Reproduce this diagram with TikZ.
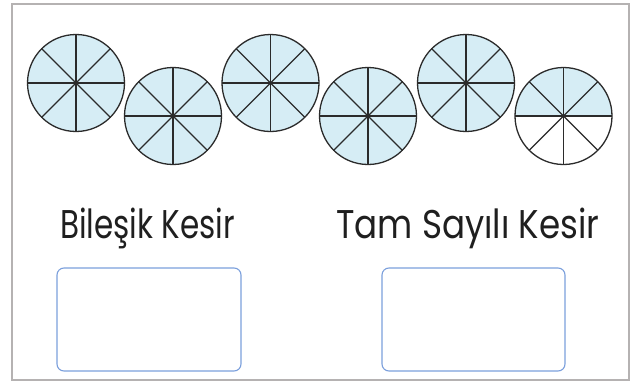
\documentclass[tikz,border=0pt]{standalone}
\usepackage{fontspec}
\usepackage{graphicx}
\usetikzlibrary{calc}
\newfontfamily\labfont{Poppins}
\definecolor{pieblue}{HTML}{D6EDF5}
\definecolor{pieline}{HTML}{2B2B2B}
\definecolor{boxblue}{HTML}{7B9FDC}
\definecolor{framegray}{HTML}{B5B2B2}
\tikzset{
  pie/.style={fill=pieblue, draw=pieline, line width=1.3pt},
  spoke/.style={draw=pieline, line width=1.3pt},
  answerbox/.style={draw=boxblue, line width=1.1pt, rounded corners=7pt},
  label/.style={anchor=base west, inner sep=0pt, text=black!88},
}
\newcommand{\eightpie}[2]{%
  \coordinate (#1) at #2;
  \path[pie] (#1) circle[radius=48.5];
  \foreach \a in {0,45,90,135} {
    \draw[spoke] ($(#1)+(\a:48.5)$) -- ($(#1)+(\a+180:48.5)$);
  }
}
\begin{document}
\begin{tikzpicture}[x=1pt,y=-1pt]
\useasboundingbox (0,0) rectangle (637,383);
\draw[framegray, line width=2.5pt] (12,4) rectangle (629,380);
\eightpie{p1}{(76,83)}
\eightpie{p2}{(173,116)}
\eightpie{p3}{(270.5,83)}
\eightpie{p4}{(368,116)}
\eightpie{p5}{(466,83)}
% last pie: only top half shaded
\coordinate (p6) at (563.5,116);
\fill[white] (p6) circle[radius=48.5];
\fill[pieblue] ($(p6)+(-48.5,0)$) arc[start angle=180, end angle=0, radius=48.5, y radius=-48.5] -- cycle;
\draw[spoke] (p6) circle[radius=48.5];
\foreach \a in {0,45,90,135} {
  \draw[spoke] ($(p6)+(\a:48.5)$) -- ($(p6)+(\a+180:48.5)$);
}
\node[label] (t1) at (60,238) {\resizebox{175pt}{30.5pt}{\labfont Bileşik Kesir}};
\node[label] (t2) at (336,238) {\resizebox{263pt}{30.5pt}{\labfont Tam Sayılı Kesir}};
\draw[answerbox] (57,268) rectangle (241,371);
\draw[answerbox] (382,268) rectangle (565,371);
\end{tikzpicture}
\end{document}
